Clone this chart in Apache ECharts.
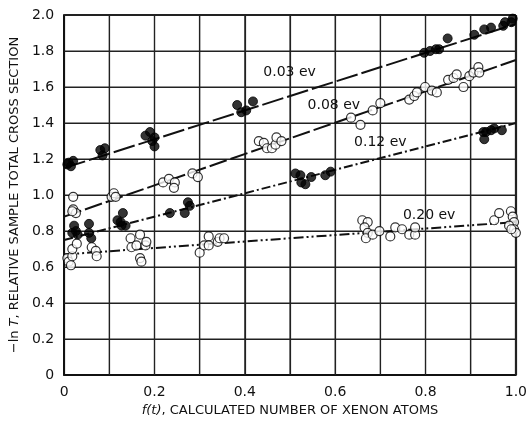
<!DOCTYPE html>
<html>
<head>
<meta charset="utf-8">
<script src="https://cdn.jsdelivr.net/npm/echarts@6/dist/echarts.min.js"></script>
<style>
  html, body { margin: 0; padding: 0; background: #fff; }
  #chart { width: 530px; height: 422px; }
</style>
</head>
<body>
<div id="chart"></div>
<script>
// measured points, x = f(t), y = -ln T
var pts003 = [[0.007,1.17],[0.01,1.18],[0.015,1.16],[0.02,1.19],
  [0.08,1.25],[0.085,1.22],[0.09,1.26],
  [0.18,1.33],[0.19,1.35],[0.195,1.30],[0.2,1.27],[0.2,1.32],
  [0.383,1.50],[0.392,1.46],[0.403,1.47],[0.418,1.52],
  [0.797,1.79],[0.81,1.80],[0.823,1.81],[0.83,1.81],[0.849,1.87],
  [0.908,1.89],[0.93,1.92],[0.945,1.93],[0.972,1.94],[0.976,1.96],[0.99,1.96],[0.993,1.98]];

var pts008 = [[0.02,0.99],[0.02,0.92],[0.026,0.90],[0.018,0.91],
  [0.105,0.99],[0.11,1.01],[0.114,0.99],
  [0.219,1.07],[0.232,1.09],[0.245,1.07],[0.243,1.04],[0.284,1.12],[0.296,1.10],
  [0.431,1.30],[0.442,1.29],[0.449,1.26],[0.46,1.26],[0.468,1.28],[0.47,1.32],[0.481,1.30],
  [0.635,1.43],[0.656,1.39],[0.683,1.47],[0.70,1.51],
  [0.764,1.53],[0.775,1.55],[0.781,1.57],[0.799,1.60],[0.814,1.58],[0.825,1.57],
  [0.85,1.64],[0.862,1.65],[0.869,1.67],[0.884,1.60],[0.897,1.66],[0.906,1.68],[0.917,1.71],[0.919,1.68]];

var pts012 = [[0.022,0.83],[0.026,0.80],[0.018,0.79],[0.03,0.78],
  [0.055,0.84],[0.055,0.79],[0.06,0.76],
  [0.13,0.90],[0.118,0.86],[0.125,0.85],[0.136,0.83],[0.127,0.83],
  [0.234,0.90],[0.267,0.90],[0.274,0.96],[0.278,0.94],
  [0.512,1.12],[0.523,1.11],[0.525,1.07],[0.534,1.06],[0.547,1.10],[0.578,1.11],[0.59,1.13],
  [0.928,1.35],[0.93,1.31],[0.934,1.35],[0.945,1.36],[0.952,1.37],[0.969,1.36]];

var pts020 = [[0.007,0.65],[0.01,0.63],[0.015,0.61],[0.018,0.66],[0.018,0.70],[0.028,0.73],
  [0.061,0.71],[0.07,0.69],[0.072,0.66],
  [0.147,0.76],[0.168,0.78],[0.149,0.71],[0.16,0.72],[0.168,0.65],[0.171,0.63],[0.18,0.72],[0.182,0.74],
  [0.30,0.68],[0.31,0.72],[0.32,0.77],[0.32,0.72],[0.34,0.74],[0.344,0.76],[0.354,0.76],
  [0.66,0.86],[0.672,0.85],[0.665,0.82],[0.672,0.79],[0.668,0.76],[0.683,0.78],[0.698,0.80],
  [0.722,0.77],[0.733,0.82],[0.748,0.81],[0.764,0.78],[0.777,0.78],[0.777,0.82],
  [0.952,0.86],[0.963,0.90],[0.989,0.91],[0.993,0.88],[0.996,0.85],[0.985,0.83],[0.996,0.81],[1.0,0.79],[0.99,0.81]];

// fitted straight lines (end points at f = 0 and f = 1)
var fit003 = [[0, 1.15], [1, 1.95]];
var fit008 = [[0, 0.88], [1, 1.75]];
var fit012 = [[0, 0.75], [1, 1.40]];
var fit020 = [[0, 0.67], [1, 0.85]];

// axis ranges and grid rulings
var xMax = 1, yMax = 2;
var xGrid = [0.1, 0.2, 0.3, 0.4, 0.5, 0.6, 0.7, 0.8, 0.9];
var yGrid = [0.2, 0.4, 0.6, 0.8, 1.0, 1.2, 1.4, 1.6, 1.8];

// energy labels and where they sit (data coords)
var energyNames = ["0.03 ev", "0.08 ev", "0.12 ev", "0.20 ev"];
var labelPos = [[0.499, 1.68], [0.597, 1.50], [0.70, 1.29], [0.808, 0.886]];

var FONT = "DejaVu Sans";
var INK = "#111";

function fitLine(data, dash, idx) {
  return {
    type: "line",
    data: data,
    symbol: "none",
    silent: true,
    z: 2,
    lineStyle: { color: INK, width: 2, type: dash },
    markPoint: {
      symbol: "circle",
      symbolSize: 1,
      itemStyle: { color: "rgba(0,0,0,0)" },
      label: {
        show: true,
        position: "inside",
        formatter: energyNames[idx],
        color: INK,
        fontFamily: FONT,
        fontSize: 14,
      },
      data: [{ coord: labelPos[idx] }],
    },
  };
}

function dots(data, filled) {
  return {
    type: "scatter",
    data: data,
    symbol: "circle",
    symbolSize: 9,
    clip: false,
    z: 3,
    itemStyle: filled
      ? { color: "#000", borderColor: "#000", borderWidth: 1 }
      : { color: "#fff", borderColor: "#000", borderWidth: 1.2 },
  };
}

// one ruling of the graph paper, drawn through the axes' scales
function ruling(data, width) {
  return {
    type: "line",
    data: data,
    symbol: "none",
    silent: true,
    clip: false,
    z: 2,
    lineStyle: { color: "#222", width: width, type: "solid" },
  };
}

var rulingSeries = [];
xGrid.forEach(function (v) { rulingSeries.push(ruling([[v, 0], [v, yMax]], 1.2)); });
yGrid.forEach(function (v) { rulingSeries.push(ruling([[0, v], [xMax, v]], 1.2)); });
// top and right edges of the frame
rulingSeries.push(ruling([[xMax, 0], [xMax, yMax]], 2));
rulingSeries.push(ruling([[0, yMax], [xMax, yMax]], 2));

var chart = echarts.init(document.getElementById("chart"));
chart.setOption({
  animation: false,
  grid: { left: 63, right: 10, top: 15, bottom: 46 },
  xAxis: {
    type: "value",
    min: 0, max: xMax, interval: 0.1,
    name: "{i|f(t)}, CALCULATED NUMBER OF XENON ATOMS",
    nameLocation: "middle",
    nameGap: 28,
    nameTextStyle: {
      color: INK, fontFamily: FONT, fontSize: 13,
      rich: { i: { fontStyle: "italic", fontFamily: FONT, fontSize: 13, color: INK } },
    },
    axisLine: { show: true, onZero: false, lineStyle: { color: INK, width: 2 } },
    axisTick: { show: false },
    axisLabel: {
      color: INK, fontFamily: FONT, fontSize: 14, margin: 10,
      formatter: function (v) {
        var k = Math.round(v * 10);
        if (k % 2 !== 0) return "";
        return k === 0 ? "0" : (k / 10).toFixed(1);
      },
    },
    splitLine: { show: true, lineStyle: { color: "#222", width: 1.2 } },
  },
  yAxis: {
    type: "value",
    min: 0, max: yMax, interval: 0.2,
    name: "\u2212ln {i|T}, RELATIVE SAMPLE TOTAL CROSS SECTION",
    nameLocation: "middle",
    nameRotate: 90,
    nameGap: 40,
    nameTextStyle: {
      color: INK, fontFamily: FONT, fontSize: 13,
      rich: { i: { fontStyle: "italic", fontFamily: FONT, fontSize: 13, color: INK } },
    },
    axisLine: { show: true, onZero: false, lineStyle: { color: INK, width: 2 } },
    axisTick: { show: false },
    axisLabel: {
      color: INK, fontFamily: FONT, fontSize: 14, margin: 10,
      formatter: function (v) {
        var k = Math.round(v * 10);
        return k === 0 ? "0" : (k / 10).toFixed(1);
      },
    },
    splitLine: { show: true, lineStyle: { color: "#222", width: 1.2 } },
  },
  series: rulingSeries.concat([
    fitLine(fit003, [22, 4], 0),
    fitLine(fit008, [18, 4], 1),
    fitLine(fit012, [9, 3, 2, 3], 2),
    fitLine(fit020, [10, 3, 2, 3, 2, 3], 3),
    dots(pts003, true),
    dots(pts008, false),
    dots(pts012, true),
    dots(pts020, false),
  ]),
});
</script>
</body>
</html>
